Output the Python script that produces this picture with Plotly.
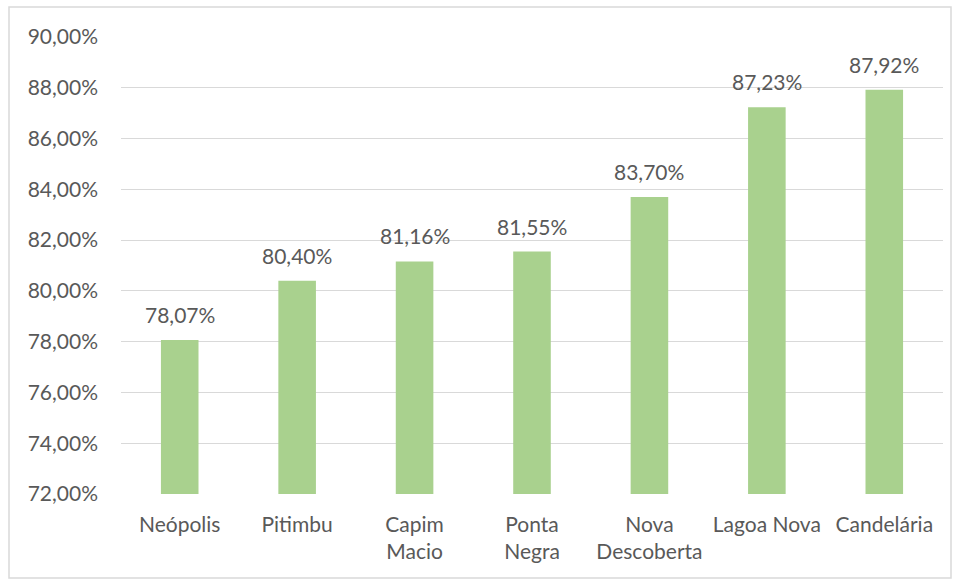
import plotly.graph_objects as go

categories = ["Neópolis", "Pitimbu", "Capim<br>Macio", "Ponta<br>Negra", "Nova<br>Descoberta", "Lagoa Nova", "Candelária"]
values = [78.07, 80.40, 81.16, 81.55, 83.70, 87.23, 87.92]
y_ticks = [72, 74, 76, 78, 80, 82, 84, 86, 88, 90]

def pt(v):
    return f"{v:.2f}%".replace(".", ",")

FONT = "Lato, Carlito, Calibri, sans-serif"
TXT = "#595959"
FS = 21

fig = go.Figure(go.Bar(
    x=categories, y=values,
    marker=dict(color="#A9D18E", line=dict(width=0)),
    width=0.32,
    hoverinfo="x+y",
))

annotations = [dict(x=c, y=v, text=pt(v), xref="x", yref="y", showarrow=False,
                    yanchor="bottom", yshift=11,
                    font=dict(family=FONT, size=FS, color=TXT))
               for c, v in zip(categories, values)]

fig.update_layout(
    width=958, height=581,
    margin=dict(l=121, r=15, t=37, b=87),
    paper_bgcolor="white", plot_bgcolor="white",
    showlegend=False,
    font=dict(family=FONT, size=FS, color=TXT),
    xaxis=dict(showgrid=False, showline=False, ticks="", ticklabelstandoff=16,
               tickfont=dict(family=FONT, size=FS, color=TXT)),
    yaxis=dict(range=[72, 90], tickvals=y_ticks, ticktext=[pt(v) for v in y_ticks],
               showgrid=True, gridcolor="#D9D9D9", gridwidth=1, zeroline=False,
               showline=False, ticks="", ticklabelstandoff=22,
               tickfont=dict(family=FONT, size=FS, color=TXT)),
    annotations=annotations,
    shapes=[dict(type="rect", xref="paper", yref="paper",
                 x0=(9-121)/822, x1=(951-121)/822,
                 y0=(494-578)/457, y1=(494-7)/457,
                 line=dict(color="#D9D9D9", width=1.5), fillcolor="rgba(0,0,0,0)", layer="below")],
)

fig.write_html("out.html", config={"displayModeBar": False},
               post_script="document.body.style.margin='0';")
